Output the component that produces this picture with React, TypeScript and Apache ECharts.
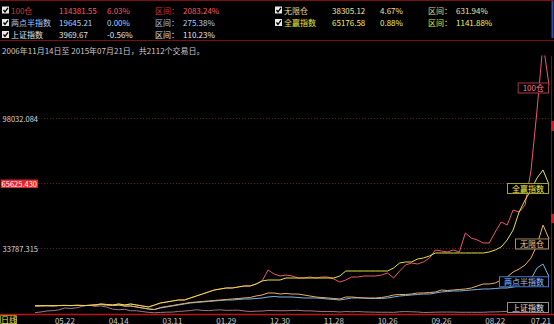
import React, { useEffect, useRef } from "react";
import * as echarts from "echarts";

const FONT = '"Noto Sans CJK SC", "Noto Sans", sans-serif';

const seriesNames = ["100仓", "两点半指数", "上证指数", "无限仓", "全赢指数"];
const tickLabels = ["05.22", "04.14", "03.11", "01.29", "12.30", "11.28", "10.26", "09.26", "08.22", "07.21"];
const tickIndex = [5, 14, 23, 32, 41, 50, 59, 68, 77, 86];
const sampleCount = 87;

const pos100 = [
  5239, 5300, 5350, 5280, 5400, 5450, 5380, 5500, 5420, 5400, 5650, 6140, 5900, 5650, 6140, 5650, 6140, 5650, 5150, 4660,
  5650, 6640, 7130, 7630, 8120, 8120, 9110, 10100, 11080, 12070, 13060, 13560, 14050, 14050, 14540, 15040, 15040, 16030,
  17510, 22950, 20970, 19980, 20470, 19980, 18990, 18990, 19490, 18990, 19490, 19490, 18500, 17010, 18000, 19490, 19490,
  19980, 19980, 19980, 20470, 21460, 18990, 22450, 25420, 26400, 25910, 26900, 28880, 32830, 32340, 31840, 32830, 31840,
  41230, 38760, 37770, 36290, 36290, 41720, 46670, 45180, 52600, 51610, 55070, 72370, 102020, 135000, 114381.55,
];
const liangdian = [
  5233, 5260, 5300, 5250, 5350, 5400, 5330, 5420, 5380, 5400, 5650, 5900, 5650, 5400, 5650, 5150, 5150, 4660, 4170, 3670,
  3420, 4170, 4660, 5150, 5650, 6140, 6640, 6880, 7130, 7380, 7630, 7870, 8120, 8120, 8370, 8610, 8610, 8860, 9110, 9600,
  9850, 9600, 9600, 9600, 9350, 9110, 9110, 9110, 8860, 8610, 8370, 8120, 8610, 9110, 9110, 9110, 8860, 8860, 8860, 9110,
  9600, 10100, 10340, 10590, 10840, 11080, 11080, 11580, 12070, 12320, 12570, 12570, 12810, 13060, 13310, 13560, 13560,
  13800, 14050, 14050, 14540, 15040, 16030, 18500, 23930, 25910, 19645.21,
];
const shangzheng = [
  1888, 2200, 2700, 2850, 3200, 4200, 3900, 4300, 5000, 5700, 5000, 5200, 4600, 3600, 3300, 3500, 2800, 2800, 2400, 2000,
  1800, 1950, 2100, 2150, 2450, 2650, 2900, 3300, 3000, 2850, 3100, 3250, 3000, 3050, 3100, 2700, 2450, 2600, 2650, 2950,
  2850, 2800, 2800, 2950, 3050, 2750, 2750, 2600, 2400, 2400, 2400, 2200, 2400, 2300, 2400, 2250, 2150, 2100, 2050, 2070,
  2000, 2300, 2400, 2300, 2200, 1950, 2000, 2100, 2150, 2150, 2150, 2050, 2050, 2050, 2030, 2050, 2200, 2240, 2350, 2500,
  3100, 3250, 3600, 4300, 4600, 5000, 3969.67,
];
const wuxian = [
  5233, 5270, 5320, 5260, 5370, 5420, 5350, 5450, 5400, 5400, 5650, 5900, 5650, 5400, 5650, 5150, 5150, 4660, 4170, 3670,
  3420, 4410, 4910, 5400, 5900, 6390, 6880, 7130, 7380, 7630, 7870, 8120, 8370, 8610, 8860, 9110, 9350, 10100, 10590,
  11580, 11580, 11080, 11330, 11080, 11080, 10590, 10100, 9600, 9350, 9110, 8860, 8610, 9600, 9600, 9350, 9110, 9110,
  9110, 9350, 9850, 10590, 10840, 10840, 11080, 11580, 11580, 11820, 12070, 13060, 12810, 13060, 13310, 13560, 14050,
  15040, 16030, 16030, 16520, 18000, 19490, 21960, 23440, 25420, 28880, 35300, 45180, 38305.12,
];
const quanying = [
  5248, 5300, 5350, 5280, 5400, 5450, 5380, 5500, 5420, 5400, 5650, 6140, 5900, 5650, 6140, 5650, 6140, 5650, 5150, 4660,
  5650, 6640, 7130, 7630, 8120, 8120, 9110, 10100, 11080, 12070, 13060, 13560, 14050, 14050, 14540, 15040, 15040, 16030,
  17510, 18000, 18000, 18000, 18990, 18990, 18990, 18990, 18990, 18990, 18990, 18990, 18990, 19980, 22450, 22450, 22450,
  22450, 22450, 22450, 22450, 22450, 23930, 26400, 26900, 26900, 28380, 28880, 29860, 31350, 31350, 31350, 31350, 31350,
  31350, 31350, 31350, 31350, 31840, 32830, 34310, 37770, 42710, 51610, 57540, 62480, 68410, 72370, 65176.58,
];
const dayChange = [6.03, 0.0, -0.56, 4.67, 0.88];
const rangePct = [2083.24, 275.38, 110.23, 631.94, 1141.88];
const gridLabels = ["98032.084", "65625.430", "33787.315"];
const highlightedLabel = "65625.430";
const flatRanges = [[9, 16], [44, 59], [61, 63], [68, 77]];
const dateRangeText = "2006年11月14日至 2015年07月21日，共2112个交易日。";

const seriesData = [pos100, liangdian, shangzheng, wuxian, quanying];
const lineColors = ["#ec5868", "#7ab4e6", "#a07888", "#eab066", "#e6e23e"];
const headerNameColors = ["#c83a3a", "#a8c8ff", "#e0e0e0", "#e6d88e", "#e6e63e"];
const headerValueColors = ["#ff5a5a", "#a8d0ff", "#e4e4e4", "#f0e0a0", "#f0f060"];
const labelBorders = ["#a83848", "#4a78c8", "#909090", "#a89060", "#a8a028"];
const labelTexts = ["#ff7484", "#9cc0ff", "#e4e4e4", "#f0c48c", "#f2f048"];
const labelOffsets = [3, 5, -1, 5, 4];
const drawOrder = [2, 1, 3, 0, 4];

export default function App() {
  const ref = useRef<HTMLDivElement>(null);
  useEffect(() => {
    document.body.style.margin = "0";
    document.body.style.background = "#000";
    if (!ref.current) return;
    const chart = echarts.init(ref.current, null, { renderer: "svg" });

    const categories = Array.from({ length: sampleCount }, (_, i) => {
      const k = tickIndex.indexOf(i);
      return k >= 0 ? tickLabels[k] : "d" + i;
    });

    const headerEls: any[] = [];
    const colX = [0, 273];
    const rowY = [10, 22.5, 34.5];
    const layout = [
      [0, 0], [0, 1], [0, 2], [1, 0], [1, 1],
    ];
    seriesNames.forEach((name, s) => {
      const [c, r] = layout[s];
      const x0 = colX[c];
      const y = rowY[r];
      const data = seriesData[s];
      const last = data[data.length - 1];
      headerEls.push({ type: "rect", shape: { x: x0 + 2, y: y - 3.5, width: 7, height: 7 }, style: { fill: "#e8e8e8" } });
      headerEls.push({
        type: "polyline",
        shape: { points: [[x0 + 3.5, y], [x0 + 5, y + 2], [x0 + 8, y - 2.2]] },
        style: { stroke: "#000", lineWidth: 1.3, fill: "none" },
      });
      const t = (dx: number, text: string, fill: string) =>
        headerEls.push({
          type: "text",
          x: x0 + dx,
          y,
          style: { text, fill, font: `8px ${FONT}`, textVerticalAlign: "middle", textAlign: "left" },
        });
      t(11, name, headerNameColors[s]);
      t(59, last.toFixed(2), headerValueColors[s]);
      t(107, dayChange[s].toFixed(2) + "%", headerValueColors[s]);
      t(155, "区间：", headerNameColors[s]);
      t(183, rangePct[s].toFixed(2) + "%", headerValueColors[s]);
    });

    const series: any[] = drawOrder.map((s) => ({
      name: seriesNames[s],
      type: "line",
      data: seriesData[s],
      symbol: "none",
      showSymbol: false,
      lineStyle: { width: 1, color: lineColors[s] },
      itemStyle: { color: lineColors[s] },
      z: 3,
      endLabel: {
        show: true,
        formatter: seriesNames[s],
        color: labelTexts[s],
        backgroundColor: "#000",
        borderColor: labelBorders[s],
        borderWidth: 1,
        padding: [1, 4, 0, 4],
        fontSize: 8,
        fontFamily: FONT,
        align: "right",
        distance: 0,
        offset: [-1, labelOffsets[s]],
      },
      markLine:
        s === 2
          ? {
              silent: true,
              symbol: "none",
              z: 1,
              lineStyle: { color: "#6e1818", type: [1, 2], width: 1 },
              label: {
                position: "start",
                distance: -3,
                color: "#d8d8d8",
                backgroundColor: "#000",
                fontSize: 7.5,
                fontFamily: FONT,
              },
              data: gridLabels.map((g) => ({
                yAxis: Number(g),
                label:
                  g === highlightedLabel
                    ? { formatter: g, backgroundColor: "#e42626", color: "#ffffff", padding: [1, 1, 0, 1] }
                    : { formatter: g },
              })),
            }
          : undefined,
    }));

    const quanyingSeriesIndex = drawOrder.indexOf(4);

    chart.setOption({
      animation: false,
      backgroundColor: "#000",
      grid: { left: 35, right: 5, top: 56, bottom: 10, containLabel: false },
      xAxis: {
        type: "category",
        data: categories,
        boundaryGap: false,
        axisLine: { show: false },
        axisTick: { show: false },
        splitLine: { show: false },
        axisLabel: {
          interval: (idx: number) => tickIndex.indexOf(idx) >= 0,
          showMaxLabel: true,
          margin: 2,
          color: "#c8c8c8",
          fontSize: 8,
          fontFamily: FONT,
          formatter: (v: string, idx: number) => (idx === sampleCount - 1 ? `{r|${v}}` : v),
          rich: { r: { padding: [0, 16, 0, 0], color: "#c8c8c8", fontSize: 8, fontFamily: FONT } },
        },
      },
      yAxis: {
        type: "value",
        min: 1200,
        max: 128700,
        axisLine: { show: false },
        axisTick: { show: false },
        axisLabel: { show: false },
        splitLine: { show: false },
      },
      visualMap: [
        {
          type: "piecewise",
          show: false,
          seriesIndex: quanyingSeriesIndex,
          dimension: 0,
          pieces: flatRanges.map(([a, b]) => ({ gte: a, lte: b, color: "#3aa0a0" })),
          outOfRange: { color: lineColors[4] },
        },
      ],
      series,
      graphic: [
        { type: "line", shape: { x1: 0, y1: 0.5, x2: 554, y2: 0.5 }, style: { stroke: "#7a1010", lineWidth: 1 } },
        { type: "line", shape: { x1: 0, y1: 40.5, x2: 554, y2: 40.5 }, style: { stroke: "#7a1010", lineWidth: 1 } },
        { type: "line", shape: { x1: 552.5, y1: 1, x2: 552.5, y2: 38 }, style: { stroke: "#3050a0", lineWidth: 2 } },
        ...headerEls,
        {
          type: "text",
          x: 2,
          y: 50,
          style: { text: dateRangeText, fill: "#c8c8c8", font: `8px ${FONT}`, textVerticalAlign: "middle" },
        },
        { type: "line", shape: { x1: 551.5, y1: 56, x2: 551.5, y2: 314 }, style: { stroke: "#7a1010", lineWidth: 1 } },
        { type: "rect", shape: { x: 551, y: 121, width: 3, height: 10 }, style: { fill: "#d01818" } },
        { type: "rect", shape: { x: 551, y: 214, width: 3, height: 9 }, style: { fill: "#d01818" } },
        { type: "line", shape: { x1: 0, y1: 314.5, x2: 554, y2: 314.5 }, style: { stroke: "#c01010", lineWidth: 1.5 } },
        { type: "rect", shape: { x: 0.5, y: 315.5, width: 16, height: 8 }, style: { fill: "none", stroke: "#8a8a20", lineWidth: 1 } },
        {
          type: "text",
          x: 1,
          y: 319.5,
          style: { text: "日线", fill: "#ece43c", font: `8px ${FONT}`, textVerticalAlign: "middle" },
        },
      ],
    });
    return () => chart.dispose();
  }, []);
  return <div ref={ref} style={{ width: 554, height: 324, background: "#000" }} />;
}
